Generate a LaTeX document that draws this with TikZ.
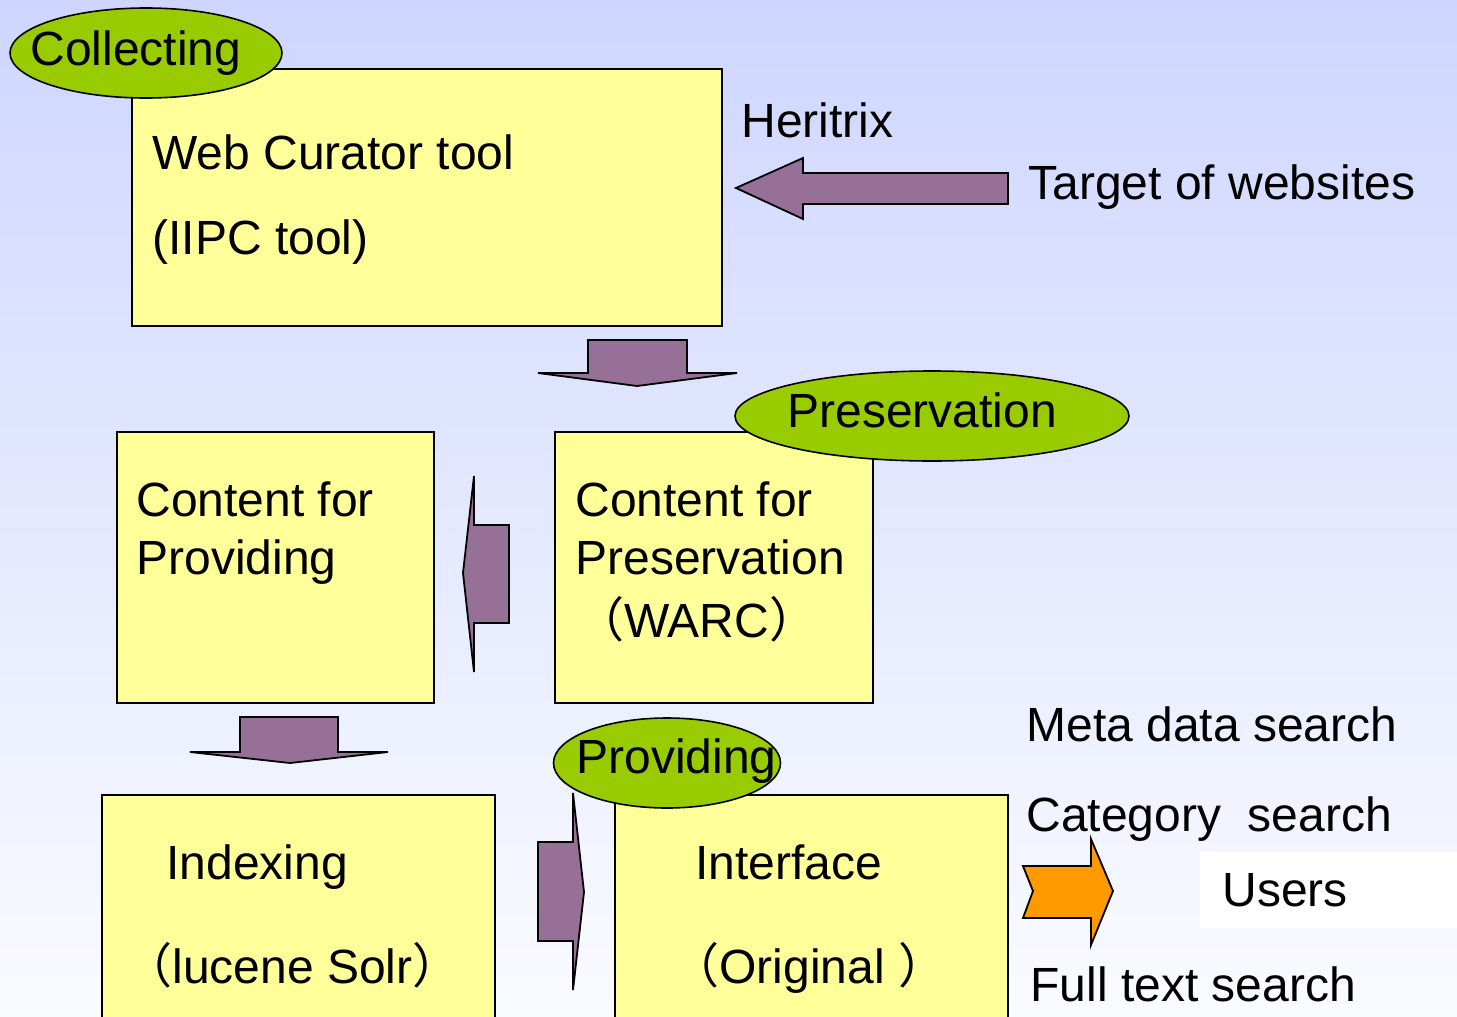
\documentclass[tikz,border=0pt]{standalone}
\usepackage{fontspec}
\setmainfont{Liberation Sans}
\newfontfamily\cjk{Noto Sans CJK SC}
\usetikzlibrary{shapes.geometric}
\usepackage{xcolor}
\definecolor{boxcol}{RGB}{255,255,153}
\definecolor{tagcol}{RGB}{153,204,0}
\definecolor{arrowcol}{RGB}{150,112,150}
\definecolor{usercol}{RGB}{255,153,0}
\definecolor{skytop}{RGB}{206,214,255}
\definecolor{skybottom}{RGB}{250,251,255}

\begin{document}
\begin{tikzpicture}[
    x=0.5pt, y=-0.5pt,
    font=\fontsize{24}{28}\selectfont,
    box/.style={draw=black, fill=boxcol, line width=1pt, anchor=north west, inner sep=0pt},
    tag/.style={ellipse, draw=black, fill=tagcol, line width=0.8pt, inner sep=0pt, minimum height=45pt},
    txt/.style={anchor=base west, inner sep=0pt},
    blockarrow/.style={draw=black, fill=arrowcol, line width=0.9pt, line join=miter},
]

% ---- Background ----
\shade[top color=skytop, bottom color=skybottom] (0,0) rectangle (1457,1017);
\useasboundingbox (0,0) rectangle (1457,1017);

% ---- Boxes ----
\node[box, minimum width=295pt, minimum height=128.5pt] (curator) at (131,68) {};
\node[box, minimum width=158.5pt, minimum height=135.5pt] (forprov) at (116,431) {};
\node[box, minimum width=159pt, minimum height=135.5pt] (forpres) at (554,431) {};
\node[box, minimum width=196.5pt, minimum height=118pt] (indexing) at (101,794) {};
\node[box, minimum width=196.5pt, minimum height=118pt] (interface) at (614,794) {};
\node[fill=white, inner sep=0pt, anchor=north west, minimum width=128.5pt, minimum height=38.5pt] (userbg) at (1200,851) {};

% ---- Block arrows ----
\draw[blockarrow] (736,188) -- (803,158) -- (803,173) -- (1008,173) -- (1008,204) -- (803,204) -- (803,219) -- cycle;
\draw[blockarrow] (588,340) -- (687,340) -- (687,373) -- (737,373) -- (637,386) -- (538,373) -- (588,373) -- cycle;
\draw[blockarrow] (474,476) -- (474,525) -- (509,525) -- (509,623) -- (474,623) -- (474,672) -- (463,573) -- cycle;
\draw[blockarrow] (240,717) -- (338,717) -- (338,752) -- (388,752) -- (290,763) -- (190,752) -- (240,752) -- cycle;
\draw[blockarrow] (573,793) -- (573,842) -- (538,842) -- (538,941) -- (573,941) -- (573,990) -- (584,892) -- cycle;
\draw[blockarrow, fill=usercol] (1023,866) -- (1091,866) -- (1091,839) -- (1113,891) -- (1091,945) -- (1091,918) -- (1023,918) -- (1033,891) -- cycle;

% ---- Stage tags ----
\node[tag, minimum width=136pt] (collecting) at (146,53) {};
\node[tag, minimum width=197pt] (preservation) at (932,416) {};
\node[tag, minimum width=113.5pt] (providing) at (667,763) {};
\node[txt] (collectlab) at (30,65) {Collecting};
\node[txt] (preslab) at (787,427) {Preservation};
\node[txt] (provlab) at (576,773) {Providing};

% ---- Texts ----
\node[txt] (heritrix) at (741,137) {Heritrix};
\node[txt] (target) at (1028,199) {Target of websites};
\node[txt] (curname) at (152,169) {Web Curator tool};
\node[txt] (curnote) at (152,254) {(IIPC tool)};
\node[txt] (provone) at (136,516) {Content for};
\node[txt] (provtwo) at (136,574) {Providing};
\node[txt] (presone) at (575,516) {Content for};
\node[txt] (prestwo) at (575,574) {Preservation};
\node[txt] (presthree) at (576,637) {{\cjk （}WARC{\cjk ）}};
\node[txt] (idxname) at (166,879) {Indexing};
\node[txt] (idxnote) at (124,983) {{\cjk （}lucene Solr{\cjk ）}};
\node[txt] (ifname) at (695,879) {Interface};
\node[txt] (ifnote) at (671,983) {{\cjk （}Original {\cjk ）}};
\node[txt] (metasearch) at (1026,741) {Meta data search};
\node[txt] (catsearch) at (1026,831) {Category\ \ search};
\node[txt] (users) at (1222,906) {Users};
\node[txt] (fullsearch) at (1030,1001) {Full text search};

\end{tikzpicture}
\end{document}
